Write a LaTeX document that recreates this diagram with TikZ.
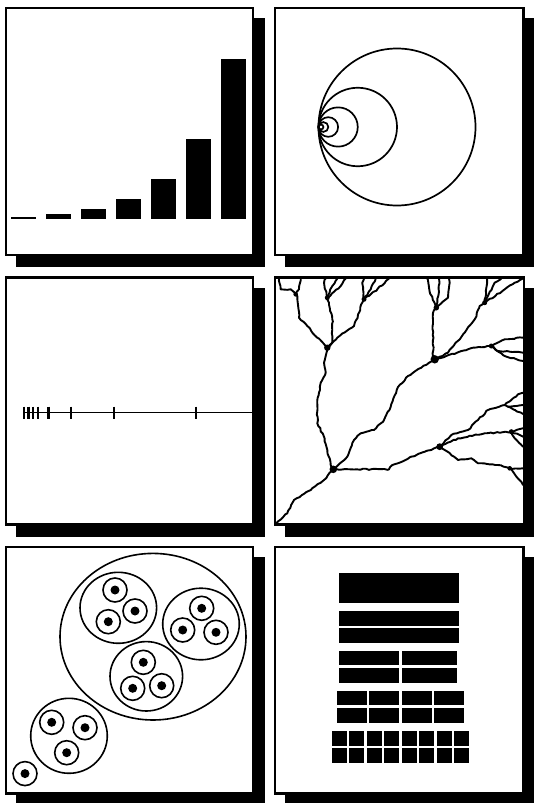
\documentclass[tikz,border=0pt]{standalone}
\usetikzlibrary{decorations.pathmorphing}
\begin{document}
\begin{tikzpicture}[x=1pt,y=-1pt,
  frame/.style={draw=black,line width=2.3pt,fill=white},
  shadowbox/.style={fill=black},
  bar/.style={fill=black},
  ring/.style={draw=black,line width=1.7pt},
  tick/.style={line width=2.4pt},
  axis/.style={line width=1.8pt},
  tree/.style={line width=1.9pt,line join=round,line cap=round,
    decorate,decoration={random steps,segment length=3pt,amplitude=0.6pt}},
  knot/.style={fill=black},
  block/.style={fill=black},
  bubble/.style={draw=black,line width=1.6pt},
  dot/.style={fill=black}]
\useasboundingbox (0,0) rectangle (533,803);
\fill[white] (0,0) rectangle (533,803);
\pgfmathsetseed{7}
% ---------- panels with shadows ----------
\foreach \xa/\ya/\xb/\yb in {6/8/253/255, 275/8/523.5/255,
   6/277.5/253/524.5, 275/277.5/524/524.5,
   6/547/253/793.5, 275/547/523.5/793.5}{
  \fill[shadowbox] (\xa+10,\ya+10) rectangle (\xb+12,\yb+12);
  \draw[frame] (\xa,\ya) rectangle (\xb,\yb);
}
% ---------- panel 1: bars ----------
\foreach \k in {0,...,6}
  \fill[bar] (10.5+35*\k,219) rectangle (35.5+35*\k,219-2.5*2^\k);
% ---------- panel 2: tangent circles ----------
\foreach \k in {0,...,5}
  \draw[ring] (318.5+78.5/2^\k,127) circle[radius=78.5/2^\k];
% ---------- panel 3: axis with ticks ----------
\draw[axis] (23,412.5) -- (253,412.5);
\foreach \x in {24,28.5,33,38,48.5,71,114,196}
  \draw[tick] (\x,406.5) -- (\x,418.5);
% ---------- panel 4: branching tree ----------
\draw[tree] (276.5,523) -- (287.3,513.3) -- (294,500) -- (310.7,490) -- (324,480) -- (333.3,469.3)
  -- (330.7,465) -- (327.3,450) -- (324,436.7) -- (317.3,423.3) -- (317.3,404) -- (319,392.7)
  -- (320.7,382.7) -- (325.7,372.7) -- (324,362.7) -- (325.7,356) -- (327.3,347.7);
\draw[tree] (327.3,347.7) -- (317.3,337.7) -- (307.3,326) -- (299,317.7) -- (297.3,296) -- (295.7,294.3);
\draw[tree] (295.7,294.3) -- (290.7,289.3) -- (280.7,289.3) -- (279,278.5);
\draw[tree] (295.7,294.3) -- (299,289.3) -- (300.7,278.5);
\draw[tree] (327.3,347.7) -- (332.3,342.7) -- (332.3,319.3) -- (329,302.7) -- (327.3,297.7);
\draw[tree] (327.3,297.7) -- (324,282.7) -- (325.7,278.5);
\draw[tree] (327.3,297.7) -- (332.3,286) -- (337.3,278.5);
\draw[tree] (327.3,297.7) -- (340.7,286) -- (345.7,278.5);
\draw[tree] (327.3,347.7) -- (337.3,337.7) -- (354,326) -- (359,312.7) -- (362.3,302.7) -- (364,299.3);
\draw[tree] (364,299.3) -- (362.3,282.7) -- (364,278.5);
\draw[tree] (364,299.3) -- (370.7,289.3) -- (375.7,278.5);
\draw[tree] (364,299.3) -- (377.3,289.3) -- (389,278.5);
\draw[tree] (333.3,469.3) -- (389,469.3) -- (392.3,465) -- (402,461.7) -- (411.3,456.7) -- (424.7,451.7)
  -- (431.3,450) -- (439.7,446.7);
\draw[tree] (333.3,469.3) -- (347.3,456.7) -- (354,440) -- (360.7,433.3) -- (374,430) -- (384,420)
  -- (390.7,406.7) -- (398,387) -- (408,376) -- (421.3,367.7) -- (434.7,359.3);
\draw[tree] (434.7,359.3) -- (433,356) -- (433,312.7) -- (436.3,307.7);
\draw[tree] (436.3,307.7) -- (429.7,292) -- (427.3,278.5);
\draw[tree] (436.3,307.7) -- (439,292) -- (439,278.5);
\draw[tree] (436.3,307.7) -- (448,297.7) -- (449.7,282.7) -- (449,278.5);
\draw[tree] (434.7,359.3) -- (446.3,356) -- (468,349.3) -- (473,347.7) -- (491.3,346);
\draw[tree] (491.3,346) -- (504.7,339.3) -- (523,337.7);
\draw[tree] (491.3,346) -- (498,351) -- (523,352.7);
\draw[tree] (491.3,346) -- (504.7,356) -- (523,361);
\draw[tree] (434.7,359.3) -- (448,352.7) -- (464.7,332.7) -- (474.7,319.3) -- (479.7,306) -- (484.7,302.7);
\draw[tree] (484.7,302.7) -- (486.3,288) -- (487,278.5);
\draw[tree] (484.7,302.7) -- (494.7,282.7) -- (501.3,278.5);
\draw[tree] (484.7,302.7) -- (504.7,289.3) -- (514.7,282.7) -- (523,278.5);
\draw[tree] (439.7,446.7) -- (451.3,435) -- (468,430) -- (478,420) -- (488,410) -- (504.7,405)
  -- (511.3,400) -- (518,394.3) -- (523,392.7);
\draw[tree] (504.7,405) -- (508,406.7) -- (523,405);
\draw[tree] (508,406.7) -- (515,410) -- (523,414);
\draw[tree] (439.7,446.7) -- (458,438.3) -- (484.7,433.3) -- (511.3,431.7);
\draw[tree] (511.3,431.7) -- (523,428.3);
\draw[tree] (511.3,431.7) -- (523,436.7);
\draw[tree] (511.3,431.7) -- (514.7,438.3) -- (523,446.7);
\draw[tree] (439.7,446.7) -- (444.7,450) -- (458,460) -- (471.3,458.3) -- (478,463.3) -- (498,465) -- (509.7,468.3);
\draw[tree] (509.7,468.3) -- (523,468.3);
\draw[tree] (509.7,468.3) -- (513,471.7) -- (521.3,481.7) -- (523,485);
\foreach \p/\r in {{(333.3,469.3)}/3.8, {(327.3,347.7)}/3.2, {(434.7,359.3)}/4.2, {(439.7,446.7)}/3.4,
   {(436.3,307.7)}/2.8, {(491.3,346)}/2.5, {(484.7,302.7)}/2.5, {(511.3,431.7)}/2.5,
   {(509.7,468.3)}/2.3, {(295.7,294.3)}/2.3, {(327.3,297.7)}/2.5, {(364,299.3)}/2.5}
  \fill[knot] \p circle[radius=\r];
% ---------- panel 5: nested bubbles ----------
\draw[bubble] (153,636.7) ellipse[x radius=93,y radius=83.3];
\draw[bubble] (118.3,607.8) ellipse[x radius=38.3,y radius=35.5];
\draw[bubble] (201,624) ellipse[x radius=38.3,y radius=35.8];
\draw[bubble] (146.3,676.3) ellipse[x radius=36.3,y radius=34.7];
\draw[bubble] (69,735.8) ellipse[x radius=38.3,y radius=37.5];
\foreach \p in {(115,590),(135,611),(108.3,621.7),
   (201.7,608.3),(182.7,630),(216,632.3),
   (143.3,662.3),(132.7,688.3),(161.7,685.7),
   (51.7,722.3),(85,727.7),(66.7,752.7),(25,773.6)}{
  \draw[bubble] \p circle[radius=12];
  \fill[dot] \p circle[radius=4.5];
}
% ---------- panel 6: blocks ----------
\fill[block] (339,573.3) rectangle (459,603.3);
\fill[block] (339,611) rectangle (459,625.7);
\fill[block] (339,628.3) rectangle (459,643.3);
\fill[block] (339,650.7) rectangle (399,665);
\fill[block] (401.7,650.7) rectangle (457,665);
\fill[block] (339,667.7) rectangle (399,682.7);
\fill[block] (401.7,667.7) rectangle (457,682.7);
\foreach \i in {0,...,3}{
  \fill[block] (336.7+32.5*\i,690.7) rectangle (366.7+32.5*\i,705);
  \fill[block] (336.7+32.5*\i,707.7) rectangle (366.7+32.5*\i,722.7);
}
\foreach \i in {0,...,7}{
  \fill[block] (331.7+17.5*\i,730.7) rectangle (346.7+17.5*\i,745.7);
  \fill[block] (331.7+17.5*\i,748.3) rectangle (346.7+17.5*\i,763.3);
}
\end{tikzpicture}
\end{document}
